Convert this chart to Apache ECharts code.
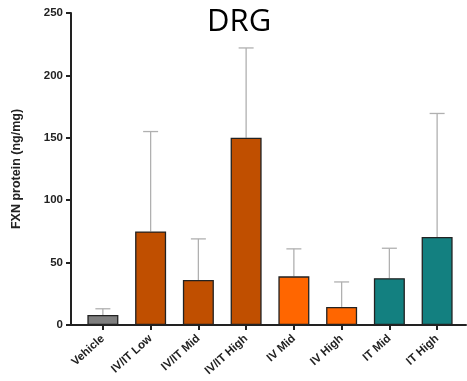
<!DOCTYPE html>
<html><head><meta charset="utf-8">
<script src="https://cdn.jsdelivr.net/npm/echarts@6/dist/echarts.min.js"></script>
<style>html,body{margin:0;padding:0;background:#fff}#c{width:467px;height:381px}</style>
</head><body><div id="c"></div>
<script>
const categories = ['Vehicle','IV/IT Low','IV/IT Mid','IV/IT High','IV Mid','IV High','IT Mid','IT High'];
const means = [8, 75, 36, 150, 39, 14.5, 37.5, 70.5];
const sd = [5, 80, 33, 72, 22, 20, 24, 99];
const colors = ['#7f7f7f','#c04f00','#c04f00','#c04f00','#ff6600','#ff6600','#138080','#138080'];
const yTicks = [0, 50, 100, 150, 200, 250];

const chart = echarts.init(document.getElementById('c'));
const font = 'Liberation Sans, Arial, sans-serif';
chart.setOption({
  animation: false,
  title: { text: 'DRG', left: 202, top: 2,
    textStyle: { fontFamily: 'Open Sans', fontWeight: 'normal', fontSize: 31, color: '#000' } },
  grid: [
    { left: 71, right: 1, top: 13, bottom: 56 },
    { left: 79, right: 6, top: 13, bottom: 56 }
  ],
  xAxis: [
    { gridIndex: 0, type: 'value', min: 0, max: 1, axisLabel: { show: false }, axisTick: { show: false },
      splitLine: { show: false }, axisLine: { lineStyle: { color: '#222', width: 2 } } },
    { gridIndex: 1, type: 'category', data: categories,
      axisLine: { show: false },
      axisTick: { show: true, alignWithLabel: true, length: 5, lineStyle: { color: '#222', width: 2 } },
      axisLabel: { rotate: 42, interval: 0, margin: 12, fontFamily: font, fontWeight: 'bold', fontSize: 11.5, color: '#222' } }
  ],
  yAxis: [
    { gridIndex: 0, type: 'value', min: 0, max: 250, interval: 50,
      name: 'FXN protein (ng/mg)', nameLocation: 'middle', nameGap: 48,
      nameTextStyle: { fontFamily: font, fontWeight: 'bold', fontSize: 12.5, color: '#222' },
      axisLine: { show: true, lineStyle: { color: '#222', width: 2 } },
      axisTick: { show: true, length: 5, lineStyle: { color: '#222', width: 2 } },
      splitLine: { show: false },
      axisLabel: { margin: 8, fontFamily: font, fontWeight: 'bold', fontSize: 11.5, color: '#222',
        customValues: yTicks } },
    { gridIndex: 1, type: 'value', min: 0, max: 250, interval: 50, show: false }
  ],
  series: [
    { type: 'custom', xAxisIndex: 1, yAxisIndex: 1, z: 1,
      data: means.map((m, i) => [i, m, m + sd[i]]),
      renderItem: function (params, api) {
        const p0 = api.coord([api.value(0), api.value(1)]);
        const p1 = api.coord([api.value(0), api.value(2)]);
        const hw = 7.5;
        return { type: 'group', children: [
          { type: 'line', shape: { x1: p0[0], y1: p0[1], x2: p1[0], y2: p1[1] }, style: { stroke: '#b0b0b0', lineWidth: 1.3 } },
          { type: 'line', shape: { x1: p1[0] - hw, y1: p1[1], x2: p1[0] + hw, y2: p1[1] }, style: { stroke: '#b0b0b0', lineWidth: 1.3 } }
        ]};
      } },
    { type: 'bar', xAxisIndex: 1, yAxisIndex: 1, barWidth: 31, z: 2,
      data: means.map((m, i) => ({ value: m, itemStyle: { color: colors[i] } })),
      itemStyle: { borderColor: '#222', borderWidth: 1.3 } }
  ]
});
</script></body></html>
